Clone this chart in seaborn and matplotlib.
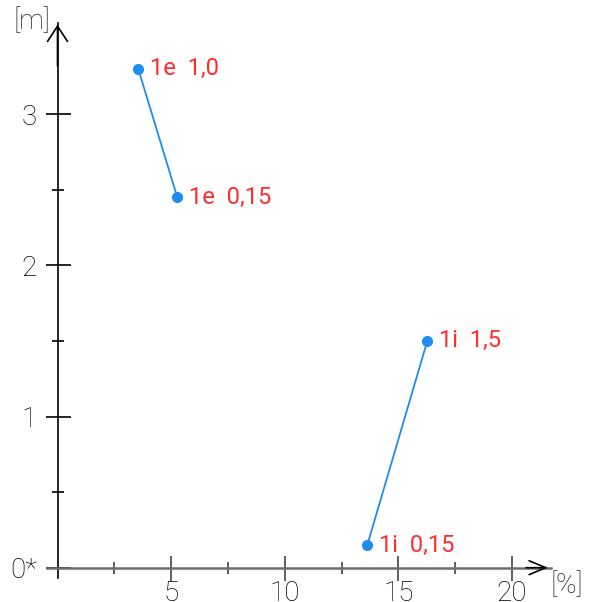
import matplotlib
matplotlib.use("Agg")
import matplotlib.pyplot as plt
import seaborn as sns
import pandas as pd

# data
series = ["1e", "1e", "1i", "1i"]
pct = [3.55, 5.27, 13.63, 16.27]
height = [3.30, 2.45, 0.15, 1.50]
point_labels = ["1e  1,0", "1e  0,15", "1i  0,15", "1i  1,5"]

x_ticks = [5, 10, 15, 20]
x_minor = [2.5, 7.5, 12.5, 17.5]
y_ticks = [0, 1, 2, 3]
y_tick_labels = ["0*", "1", "2", "3"]
y_minor = [0.5, 1.5, 2.5]

sns.set_style("white")
plt.rcParams["font.family"] = ["Roboto", "DejaVu Sans"]
plt.rcParams["font.weight"] = "light"

fig = plt.figure(figsize=(5.95, 6.02), dpi=100)
ax = fig.add_axes([0, 0, 1, 1])

# pixel mapping: x0 at 57.5 px, 22.73 px/unit; y0 at 567.7 px, 151.2 px/unit
ax.set_xlim(-57.5 / 22.73, (595 - 57.5) / 22.73)
ax.set_ylim(-(602 - 567.7) / 151.2, 567.7 / 151.2)

df = pd.DataFrame({"series": series, "pct": pct, "height": height})
sns.lineplot(data=df, x="pct", y="height", units="series", estimator=None,
             color="#1E8CF0", lw=1.3, marker="o", markersize=8,
             markeredgewidth=0, sort=False, ax=ax, legend=False)

for xv, yv, lab in zip(pct, height, point_labels):
    ax.annotate(lab, (xv, yv), xytext=(8.5, 0), textcoords="offset points",
                color="#FF2E2E", fontsize=17, va="center", ha="left",
                fontweight="normal")

for side in ["top", "right"]:
    ax.spines[side].set_visible(False)
ax.spines["left"].set_position(("data", 0))
ax.spines["bottom"].set_position(("data", 0))
ax.spines["left"].set_bounds(-0.07, 3.6)
ax.spines["bottom"].set_bounds(-0.45, 21.7)
ax.spines["left"].set_color("black")
ax.spines["bottom"].set_color("#6E6E6E")
ax.spines["left"].set_linewidth(1.2)
ax.spines["bottom"].set_linewidth(1.8)

# open arrow heads
ax.annotate("", xy=(0, 3.61), xytext=(0, 3.3),
            arrowprops=dict(arrowstyle="->,head_length=1.1,head_width=0.72",
                            color="black", lw=1.2))
ax.annotate("", xy=(21.7, 0), xytext=(20.5, 0),
            arrowprops=dict(arrowstyle="->,head_length=1.2,head_width=0.5",
                            color="black", lw=1.2))

ax.set_xticks(x_ticks)
ax.set_xticks(x_minor, minor=True)
ax.set_yticks(y_ticks)
ax.set_yticklabels(y_tick_labels)
ax.set_yticks(y_minor, minor=True)
ax.tick_params(axis="both", which="both", bottom=True, left=True)
ax.tick_params(axis="both", which="major", direction="inout", length=18,
               width=1.2, labelsize=20, pad=0, colors="black")
ax.tick_params(axis="y", which="major", pad=6)
ax.tick_params(axis="both", which="minor", direction="inout", length=9,
               width=1.2, color="black")
ax.tick_params(axis="x", which="both", color="#444444")
ax.set_xlabel("")
ax.set_ylabel("")

ax.text(-1.12, 3.61, "[m]", fontsize=20, ha="center", va="center",
        fontweight="light")
ax.text(22.4, -0.121, "[%]", fontsize=20, ha="center", va="center",
        fontweight="light")

fig.savefig("out.png", dpi=100)
